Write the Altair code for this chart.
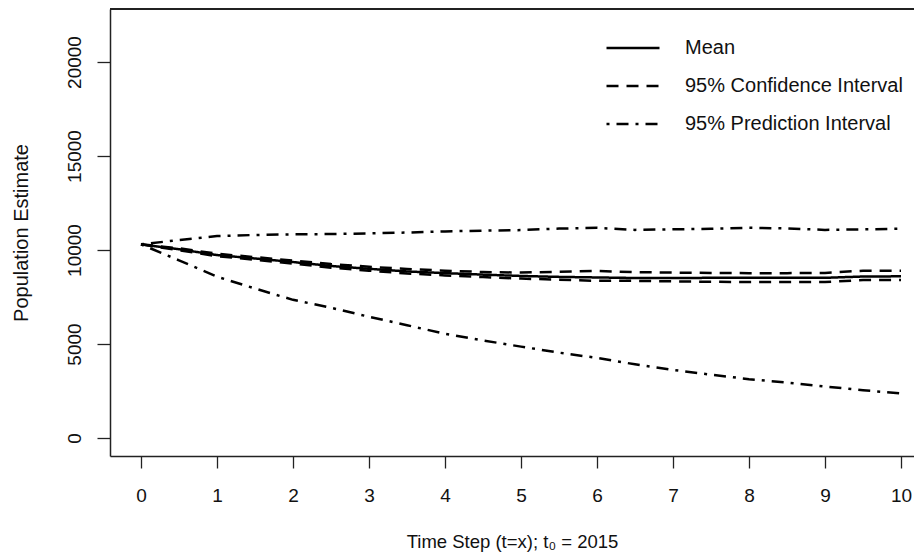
import altair as alt
import pandas as pd

# ---- data ----
t = [0, 0.5, 1, 1.5, 2, 2.5, 3, 3.5, 4, 4.5, 5, 5.5, 6, 6.5, 7, 7.5, 8, 8.5, 9, 9.5, 10]
mean = [10300, 10040, 9730, 9550, 9360, 9150, 9000, 8860, 8770, 8690, 8620, 8570, 8540,
        8510, 8510, 8520, 8520, 8520, 8520, 8590, 8600]
ci_upper = [10300, 10090, 9800, 9620, 9440, 9250, 9110, 8990, 8900, 8830, 8800, 8840, 8890,
            8820, 8800, 8780, 8770, 8770, 8780, 8900, 8900]
ci_lower = [10300, 9990, 9670, 9480, 9280, 9060, 8900, 8750, 8650, 8560, 8480, 8420, 8360,
            8360, 8330, 8310, 8300, 8300, 8300, 8400, 8400]
pi_upper = [10300, 10530, 10740, 10800, 10830, 10850, 10880, 10930, 10990, 11030, 11060, 11140,
            11180, 11070, 11100, 11130, 11180, 11150, 11070, 11100, 11130]
pi_lower = [10300, 9450, 8580, 7950, 7350, 6930, 6450, 6000, 5540, 5190, 4860, 4540, 4260,
            3920, 3620, 3370, 3130, 2950, 2740, 2540, 2370]

series_names = ["Mean", "95% Confidence Interval", "95% Prediction Interval"]
x_ticks = list(range(11))
y_ticks = [0, 5000, 10000, 15000, 20000]

rows = []
for name, line_id, vals in [
    (series_names[2], "pi_u", pi_upper),
    (series_names[2], "pi_l", pi_lower),
    (series_names[1], "ci_u", ci_upper),
    (series_names[1], "ci_l", ci_lower),
    (series_names[0], "mean", mean),
]:
    for ti, v in zip(t, vals):
        rows.append({"t": ti, "value": v, "series": name, "line_id": line_id})
df = pd.DataFrame(rows)

FONT = "Liberation Sans, Arial, sans-serif"
W, H = 804, 447

lines = alt.Chart(df).mark_line(color="black", strokeWidth=2.5, clip=True).encode(
    x=alt.X(
        "t:Q",
        scale=alt.Scale(domain=[-0.4079, 10.171], nice=False, zero=False),
        axis=alt.Axis(
            values=x_ticks, format="d", title="Time Step (t=x);  t\u2080 = 2015",
            grid=False, domainColor="#222", domainWidth=1.5, tickColor="#222",
            tickWidth=1.3, tickSize=12, labelFontSize=19, labelPadding=18,
            labelColor="#111", labelFont=FONT, labelBaseline="top",
            titleFont=FONT, titleFontSize=18.5, titleFontWeight="normal",
            titleColor="#111", titleY=91, titleBaseline="alphabetic",
        ),
    ),
    y=alt.Y(
        "value:Q",
        scale=alt.Scale(domain=[-957, 22819], nice=False, zero=False),
        axis=alt.Axis(
            values=y_ticks, format="d", title="Population Estimate",
            grid=False, domainColor="#222", domainWidth=1.5, tickColor="#222",
            tickWidth=1.3, tickSize=13, labelFontSize=19, labelPadding=17,
            labelAngle=-90, labelAlign="center", labelBaseline="alphabetic",
            labelColor="#111", labelFont=FONT,
            titleFont=FONT, titleFontSize=20, titleFontWeight="normal",
            titleColor="#111", titleX=-83, titleY=H / 2, titleAngle=270,
            titleAlign="center", titleBaseline="alphabetic",
        ),
    ),
    strokeDash=alt.StrokeDash(
        "series:N",
        scale=alt.Scale(domain=series_names, range=[[1, 0], [12, 8], [3, 7, 12, 7]]),
        legend=alt.Legend(
            title=None, orient="none", legendX=495, legendY=11,
            symbolType="stroke", symbolSize=2809, symbolStrokeWidth=2.5,
            symbolStrokeColor="black", labelFont=FONT, labelFontSize=20,
            labelColor="#111", labelOffset=24, labelLimit=0,
            rowPadding=-17, padding=0,
        ),
    ),
    detail="line_id:N",
)

top_border = alt.Chart(df).mark_rule(color="#222", strokeWidth=1.5).encode(
    x=alt.value(0), x2=alt.value(W), y=alt.value(0)
)

chart = alt.layer(lines, top_border).properties(
    width=W, height=H,
    autosize=alt.AutoSizeParams(type="none"),
    padding={"left": 102, "top": 1, "right": 0, "bottom": 96},
    background="white",
).configure_view(stroke=None)

chart.save("out.html", embed_options={"renderer": "svg", "actions": False})
